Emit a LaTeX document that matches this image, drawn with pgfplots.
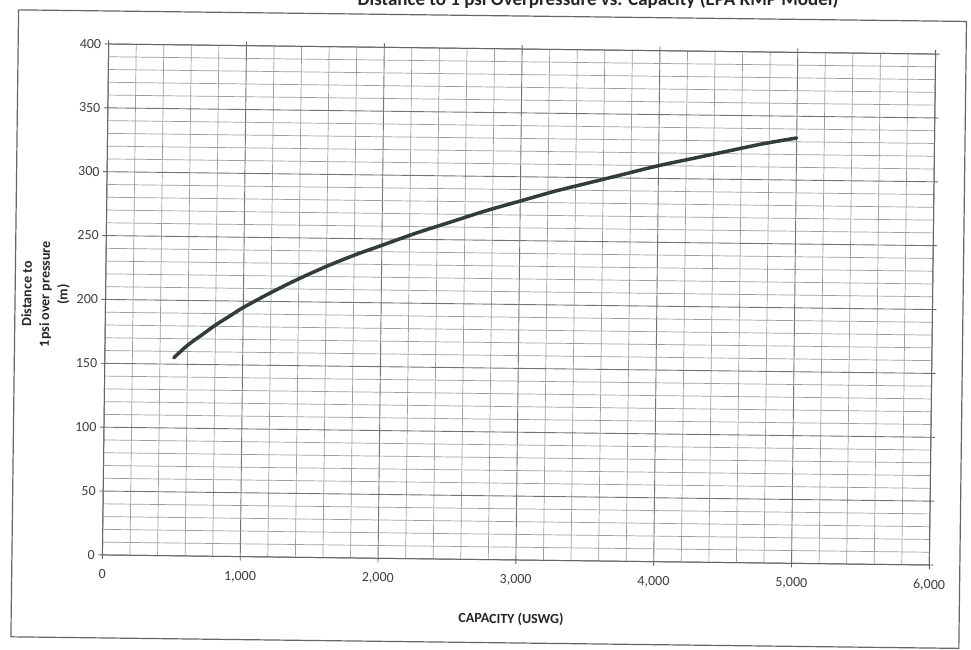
\documentclass[border=0pt]{standalone}
\usepackage{pgfplots}
\pgfplotsset{compat=1.18}
\usepackage{fontspec}
\setmainfont{Carlito}
\definecolor{curve}{RGB}{50,60,60}
\begin{document}
\begin{tikzpicture}[x=1pt,y=1pt]
\useasboundingbox (0,0) rectangle (971,650);
\fill[white] (0,0) rectangle (971,650);
\begin{scope}[rotate around={-0.7:(519,345.5)}]
\draw[black!60, line width=1.2pt] (15,7) rectangle (963,634);
\node[font=\bfseries\fontsize{19}{22}\selectfont, anchor=base east, text=black!85, inner sep=0pt]
  at (835,648) {Distance to 1 psi Overpressure vs. Capacity (EPA RMP Model)};
\begin{axis}[
  at={(105.5pt,90pt)}, anchor=south west,
  width=827pt, height=511pt, scale only axis,
  xmin=0, xmax=6000, ymin=0, ymax=400,
  xtick={0,1000,...,6000}, ytick={0,50,...,400},
  minor x tick num=4, minor y tick num=4,
  grid=both,
  major grid style={draw=black!55, line width=0.9pt},
  minor grid style={draw=black!38, line width=0.7pt},
  axis line style={draw=black!60, line width=1pt},
  tick align=outside, major tick length=4pt, minor tick length=0pt,
  tick style={black!60, line width=0.9pt},
  /pgf/number format/assume math mode=true,
  /pgf/number format/1000 sep={,},
  scaled ticks=false,
  ticklabel style={font=\fontsize{14}{16}\selectfont, text=black!75},
  xticklabel style={yshift=-7pt},
  xlabel={CAPACITY (USWG)},
  xlabel style={at={(axis description cs:0.495,-0.116)}, anchor=center, font=\bfseries\fontsize{14}{16}\selectfont, text=black!85},
  ylabel={Distance to\\1psi over pressure\\(m)},
  ylabel style={at={(axis description cs:-0.0725,0.509)}, anchor=center, align=center, font=\bfseries\fontsize{14}{18}\selectfont, text=black!85},
]
\addplot[smooth, line width=3.5pt, line cap=round, color=curve] coordinates {
(500,155) (600,165) (700,173) (800,181) (900,188) (1000,195)
(1200,207) (1400,218) (1600,228) (1800,237) (2000,245)
(2250,255) (2500,264) (2750,273) (3000,281) (3250,289)
(3500,296) (3750,303) (4000,310) (4250,316) (4500,322)
(4750,328) (5000,333)
};
\end{axis}
\end{scope}
\end{tikzpicture}
\end{document}
